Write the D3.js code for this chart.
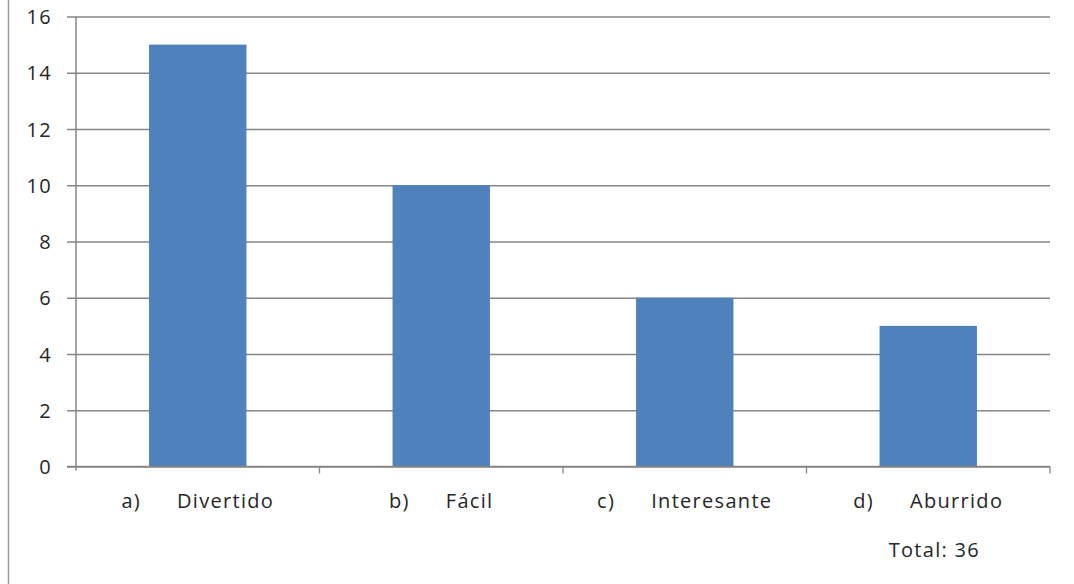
<!DOCTYPE html>
<html>
<head>
<meta charset="utf-8">
<script src="https://cdn.jsdelivr.net/npm/d3@7"></script>
<style>
  html, body { margin: 0; padding: 0; background: #fff; }
  svg { display: block; }
  text { font-family: "Open Sans", "Liberation Sans", sans-serif; fill: #262626; }
</style>
</head>
<body>
<svg id="chart" width="1074" height="584"></svg>
<script>
// Survey answers and counts
const prefixes = ["a)", "b)", "c)", "d)"];
const categories = ["Divertido", "Fácil", "Interesante", "Aburrido"];
const counts = [15, 10, 6, 5];
const yTicks = [0, 2, 4, 6, 8, 10, 12, 14, 16];

(function () {
  const svg = d3.select("#chart");
  const H = 584;
  const mLeft = 76, mRight = 1050, mTop = 16.5, mBottom = 466.5;
  const fontSize = 20, spacing = 1.3;

  // outer frame line on the left
  svg.append("line")
    .attr("x1", 8.5).attr("x2", 8.5).attr("y1", 0).attr("y2", H)
    .attr("stroke", "#9a9a9a").attr("stroke-width", 1.5);

  const x = d3.scaleBand().domain(categories).range([mLeft, mRight]).paddingInner(0.6).paddingOuter(0.3);
  const xb = d3.scaleBand().domain(categories).range([mLeft, mRight]);
  const y = d3.scaleLinear().domain([0, 16]).range([mBottom, mTop]);

  // horizontal gridlines with short ticks to the left of the axis
  const yAxis = d3.axisLeft(y).tickValues(yTicks).tickSize(-(mRight - mLeft)).tickPadding(24);
  const gy = svg.append("g").attr("transform", `translate(${mLeft},0)`).call(yAxis);
  gy.select(".domain").remove();
  gy.selectAll(".tick line").attr("stroke", "#868686").attr("stroke-width", 1.3).attr("x1", -9);
  gy.selectAll(".tick text")
    .attr("font-size", fontSize).attr("fill", "#262626").attr("dy", "0.36em")
    .style("letter-spacing", spacing + "px")
    .style("font-family", "'Open Sans', sans-serif");

  // bars
  svg.append("g").selectAll("rect").data(counts).join("rect")
    .attr("x", (d, i) => x(categories[i]))
    .attr("width", x.bandwidth())
    .attr("y", d => y(d))
    .attr("height", d => y(0) - y(d))
    .attr("fill", "#4f81bd");

  // vertical axis line
  svg.append("line")
    .attr("x1", mLeft).attr("x2", mLeft).attr("y1", y(16)).attr("y2", y(0) + 4)
    .attr("stroke", "#868686").attr("stroke-width", 1.5);

  // horizontal axis with category separators
  svg.append("line")
    .attr("x1", mLeft - 9).attr("x2", mRight).attr("y1", y(0)).attr("y2", y(0))
    .attr("stroke", "#868686").attr("stroke-width", 1.5);
  svg.append("g").selectAll("line").data(categories).join("line")
    .attr("x1", d => xb(d) + xb.bandwidth()).attr("x2", d => xb(d) + xb.bandwidth())
    .attr("y1", y(0)).attr("y2", y(0) + 7)
    .attr("stroke", "#868686").attr("stroke-width", 1.3);

  // category labels: letter, tab gap, answer
  const lab = svg.append("g").selectAll("text").data(categories).join("text")
    .attr("x", d => xb(d) + xb.bandwidth() / 2)
    .attr("y", y(0) + 41)
    .attr("font-size", fontSize)
    .attr("text-anchor", "middle")
    .style("letter-spacing", spacing + "px");
  lab.append("tspan").text((d, i) => prefixes[i]);
  lab.append("tspan").attr("dx", 36).text(d => d);

  // total of all responses
  svg.append("text")
    .attr("x", mRight - 70).attr("y", y(0) + 90)
    .attr("text-anchor", "end")
    .attr("font-size", fontSize)
    .style("letter-spacing", spacing + "px")
    .text("Total: " + d3.sum(counts));
})();
</script>
</body>
</html>
